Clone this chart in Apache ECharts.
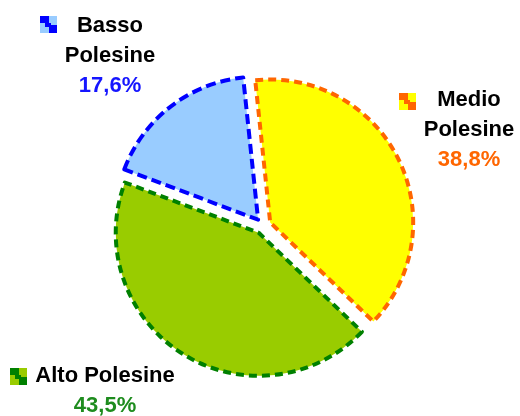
<!DOCTYPE html>
<html>
<head>
<meta charset="utf-8">
<script src="https://cdn.jsdelivr.net/npm/echarts@6/dist/echarts.min.js"></script>
<style>
html,body{margin:0;padding:0;background:#fff;}
#c{width:520px;height:416px;}
</style>
</head>
<body>
<div id="c"></div>
<script>
// ---- data ----
var categories = ['Medio\nPolesine', 'Alto Polesine', 'Basso\nPolesine'];
var values = [38.8, 43.5, 17.6];

// ---- styles ----
var fillColors = ['#FFFF00', '#99CC00', '#99CCFF'];
var borderColors = ['#FF6600', '#008000', '#0000FF'];
var valueColors = ['#FF6600', '#1E8C1E', '#1515FF'];
var dashes = [[8, 5], [8, 5], [10, 5]];
var labelPos = [[469, 130], [105, 391], [110, 56]];
var iconPos = [[399, 93], [10, 368], [40, 16]];

function fmt(v) { return v.toFixed(1).replace('.', ',') + '%'; }

var chart = echarts.init(document.getElementById('c'), null, {renderer: 'canvas'});

var data = categories.map(function (name, i) {
  return {
    name: name,
    value: values[i],
    selected: true,
    itemStyle: {
      color: fillColors[i],
      borderColor: borderColors[i],
      borderWidth: 4,
      borderType: dashes[i]
    }
  };
});

var FONT = 'Liberation Sans, Arial, sans-serif';
var graphics = [];
iconPos.forEach(function (p, i) {
  var d = borderColors[i], l = fillColors[i];
  graphics.push({
    type: 'group', x: p[0], y: p[1],
    children: [
      {type: 'rect', shape: {x: 0, y: 0, width: 17, height: 17}, style: {fill: l}},
      {type: 'rect', shape: {x: 0, y: 0, width: 9, height: 7}, style: {fill: d}},
      {type: 'rect', shape: {x: 5, y: 7, width: 6, height: 4}, style: {fill: d}},
      {type: 'rect', shape: {x: 9, y: 9, width: 8, height: 8}, style: {fill: d}}
    ]
  });
  var lines = categories[i].split('\n').map(function (s) { return '{n|' + s + '}'; });
  graphics.push({
    type: 'text',
    x: labelPos[i][0], y: labelPos[i][1],
    style: {
      text: lines.join('\n') + '\n{v|' + fmt(values[i]) + '}',
      align: 'center', verticalAlign: 'middle',
      rich: {
        n: {fontSize: 22, fontWeight: 'bold', fill: '#000', lineHeight: 30, fontFamily: FONT, align: 'center'},
        v: {fontSize: 22, fontWeight: 'bold', fill: valueColors[i], lineHeight: 30, fontFamily: FONT, align: 'center'}
      }
    }
  });
});

chart.setOption({
  animation: false,
  backgroundColor: '#fff',
  graphic: graphics,
  series: [{
    type: 'pie',
    center: [263, 226],
    radius: 143,
    startAngle: 96,
    clockwise: true,
    selectedMode: 'multiple',
    selectedOffset: 8,
    silent: true,
    emphasis: {disabled: true},
    label: {show: false},
    labelLine: {show: false},
    data: data
  }]
});
</script>
</body>
</html>
